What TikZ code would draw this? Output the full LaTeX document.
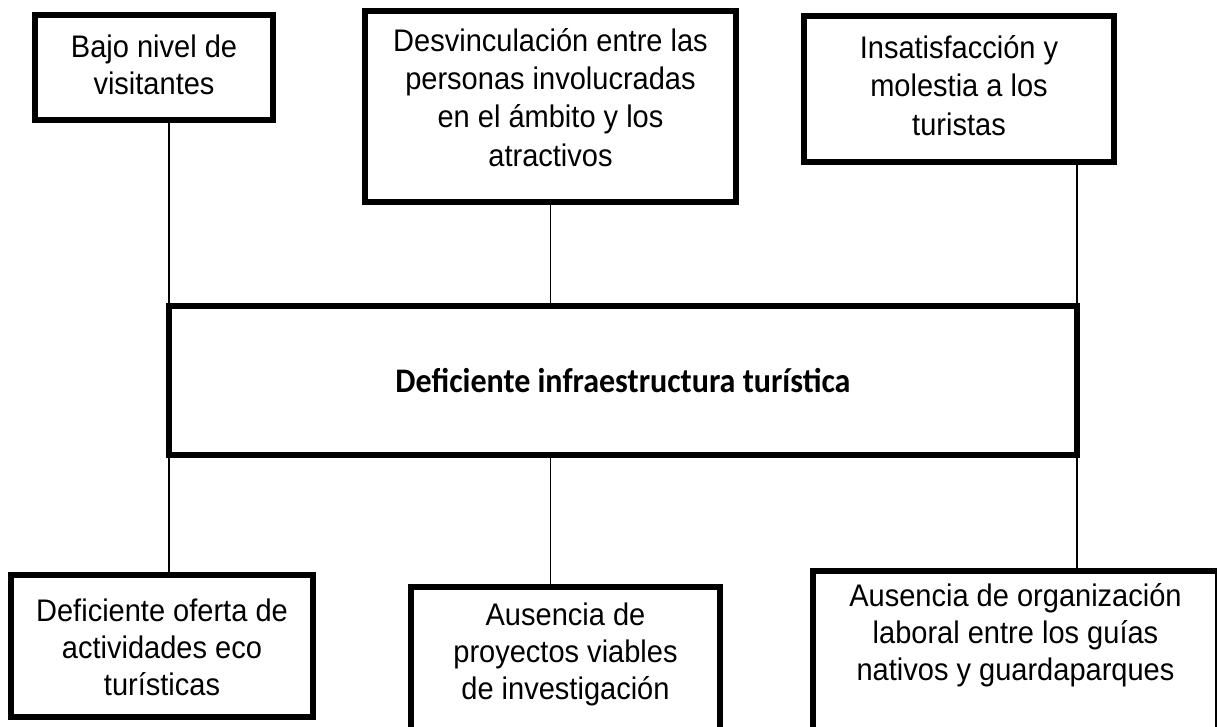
\documentclass[tikz,border=0pt]{standalone}
\usepackage{fontspec}
\setmainfont{Liberation Sans}[FakeStretch=0.93]
\newfontfamily\probfont{Carlito}[FakeStretch=0.93]
\usetikzlibrary{positioning,calc}

\begin{document}
\begin{tikzpicture}[
  font=\fontsize{22.2}{26.3}\selectfont,
  box/.style={draw=black, line width=4.3pt, align=center, outer sep=0pt,
              inner ysep=0pt, inner xsep=4pt, anchor=north},
  probbox/.style={draw=black, line width=4.3pt, align=center, outer sep=0pt,
                  font=\probfont\bfseries\fontsize{24.5}{29}\selectfont},
  wide/.style={font=\fontsize{22.2}{27.2}\selectfont},
  link/.style={draw=black, line width=1.4pt},
]
\useasboundingbox (0,0) rectangle (30.425,-18.15);
\clip (0,0) rectangle (30.425,-18.15);

%============================ EFFECTS ============================
\node[box, minimum width=5.95cm, text height=1.975cm, text depth=0.65cm] (ef1)
  at (3.85,-0.375) {Bajo nivel de\\visitantes};
\node[box, wide, minimum width=9.275cm, text height=3.875cm, text depth=0.9cm] (ef2)
  at (13.7625,-0.275) {Desvinculación entre las\\personas involucradas\\en el ámbito y los\\atractivos};
\node[box, wide, minimum width=7.75cm, text height=2.975cm, text depth=0.675cm] (ef3)
  at (23.975,-0.4) {Insatisfacción y\\molestia a los\\turistas};

%============================ PROBLEM ============================
\node[probbox, minimum width=22.7cm, minimum height=3.725cm] (prob) at (15.575,-9.5125)
  {Deficiente infraestructura turística};

%============================ CAUSES ============================
\node[box, minimum width=7.55cm, text height=3.0cm, text depth=0.55cm] (ca1)
  at (4.05,-14.375) {Deficiente oferta de\\actividades eco\\turísticas};
% these two run past the lower edge
\node[box, minimum width=7.725cm, text height=2.8cm, text depth=2cm] (ca2)
  at (14.1375,-14.675) {Ausencia de\\proyectos viables\\de investigación};
\node[box, minimum width=10.125cm, text height=2.725cm, text depth=2cm] (ca3)
  at (25.3875,-14.275) {Ausencia de organización\\laboral entre los guías\\nativos y guardaparques};

% links
\draw[link] (ef1.south -| prob.west) -- (prob.north west);
\draw[link] (ef2.south) -- (ef2.south |- prob.north);
\draw[link] (ef3.south -| prob.east) -- (prob.north east);
\draw[link] (prob.south west) -- (prob.south west |- ca1.north);
\draw[link] (prob.south -| ef2.south) -- (ca2.north -| ef2.south);
\draw[link] (prob.south east) -- (prob.south east |- ca3.north);

\end{tikzpicture}
\end{document}
